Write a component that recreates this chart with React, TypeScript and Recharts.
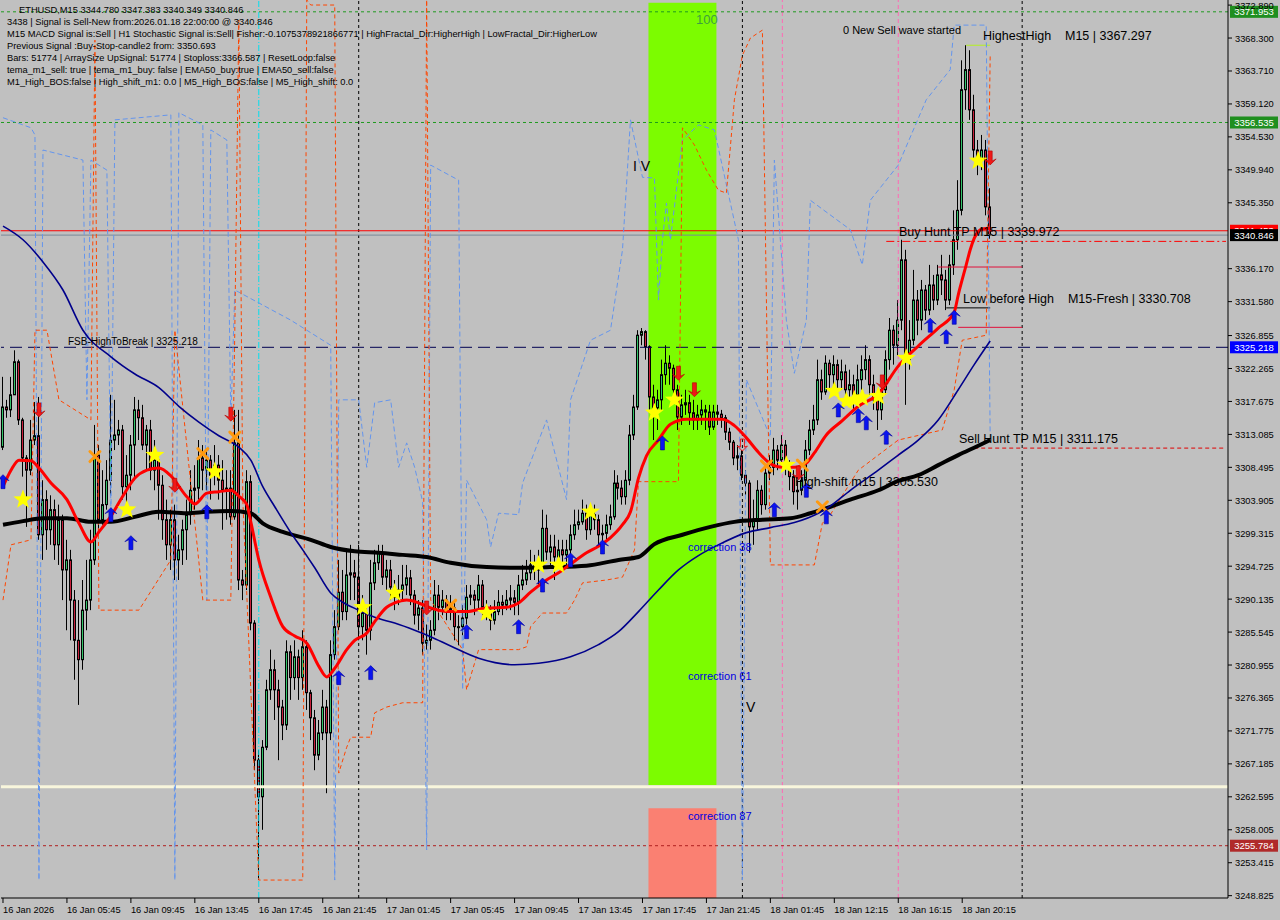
import React from 'react';
import { ComposedChart, Bar, Line, XAxis, YAxis, ReferenceLine, ReferenceArea } from 'recharts';

const FONT = '"Liberation Sans", Arial, sans-serif';
const SLOTS = 307;
const BULL = '#33c46a';
const BEAR = '#c8203c';

const timeLabels = ['16 Jan 2026', '16 Jan 05:45', '16 Jan 09:45', '16 Jan 13:45', '16 Jan 17:45', '16 Jan 21:45', '17 Jan 01:45', '17 Jan 05:45', '17 Jan 09:45', '17 Jan 13:45', '17 Jan 17:45', '17 Jan 21:45', '18 Jan 01:45', '18 Jan 12:15', '18 Jan 16:15', '18 Jan 20:15'];
const timeLabelBars = [0, 16, 32, 48, 64, 80, 96, 112, 128, 144, 160, 176, 192, 208, 224, 240];

const priceTicks = [3372.890, 3368.300, 3363.710, 3359.120, 3354.530, 3349.940, 3345.350, 3336.170, 3331.580, 3326.855, 3322.265, 3317.675, 3313.085, 3308.495, 3303.905, 3299.315, 3294.725, 3290.135, 3285.545, 3280.955, 3276.365, 3271.775, 3267.185, 3262.595, 3258.005, 3253.415, 3248.825];

const firstOpen = 3311.3;
const closes = [
  3316.9, 3316.5, 3318.6, 3323.2, 3315.1, 3309.8, 3308.1, 3312.3, 3312.9, 3299.1,
  3304.0, 3299.8, 3302.6, 3297.7, 3301.2, 3294.2, 3295.6, 3290.0, 3284.4, 3281.7,
  3288.6, 3290.0, 3295.6, 3310.2, 3301.2, 3303.3, 3306.7, 3312.3, 3313.0, 3313.7,
  3305.8, 3307.4, 3311.6, 3316.5, 3315.4, 3311.6, 3313.7, 3308.1, 3309.5, 3306.0,
  3301.2, 3297.7, 3301.2, 3295.6, 3297.0, 3299.8, 3301.9, 3305.3, 3305.6, 3309.8,
  3308.1, 3309.5, 3307.4, 3308.8, 3306.7, 3305.3, 3305.6, 3301.6, 3311.9, 3292.8,
  3292.1, 3306.5, 3286.8, 3267.7, 3262.6, 3269.5, 3277.5, 3280.3, 3277.5, 3275.1,
  3272.6, 3282.8, 3279.2, 3282.1, 3279.2, 3283.5, 3277.1, 3273.6, 3268.4, 3271.5,
  3275.1, 3271.5, 3282.4, 3286.3, 3291.1, 3288.4, 3293.5, 3293.8, 3293.2, 3286.3,
  3288.2, 3285.8, 3292.4, 3295.2, 3296.6, 3293.2, 3294.2, 3291.8, 3290.4, 3291.4,
  3292.1, 3293.1, 3290.7, 3287.9, 3288.9, 3284.0, 3284.4, 3285.8, 3290.7, 3289.0,
  3290.0, 3288.6, 3288.9, 3286.3, 3286.3, 3287.5, 3290.4, 3290.7, 3290.0, 3292.1,
  3289.0, 3288.6, 3287.2, 3288.4, 3289.7, 3289.3, 3290.0, 3290.3, 3289.7, 3292.1,
  3292.8, 3293.8, 3294.9, 3294.2, 3294.9, 3300.0, 3296.7, 3297.4, 3296.0, 3297.0,
  3296.3, 3297.0, 3299.1, 3300.5, 3300.9, 3302.1, 3299.8, 3301.9, 3301.2, 3299.1,
  3299.3, 3300.5, 3301.6, 3306.3, 3305.6, 3304.4, 3306.7, 3313.0, 3316.9, 3326.9,
  3327.4, 3325.3, 3318.3, 3316.8, 3317.9, 3321.4, 3323.0, 3322.3, 3319.3, 3315.5,
  3317.2, 3317.5, 3316.1, 3315.1, 3315.8, 3316.5, 3316.2, 3314.1, 3316.2, 3315.9,
  3315.4, 3313.4, 3312.0, 3309.8, 3310.1, 3307.4, 3306.3, 3300.2, 3301.2, 3305.3,
  3303.3, 3307.7, 3308.5, 3310.9, 3309.5, 3311.6, 3308.5, 3307.2, 3305.1, 3305.3,
  3306.7, 3310.9, 3313.7, 3315.1, 3320.7, 3319.0, 3323.0, 3321.4, 3322.8, 3320.7,
  3321.8, 3319.3, 3320.0, 3318.6, 3320.7, 3322.1, 3323.5, 3320.0, 3317.9, 3316.5,
  3319.3, 3323.5, 3327.6, 3325.5, 3329.0, 3337.4, 3323.5, 3326.2, 3331.8, 3329.0,
  3333.2, 3330.4, 3333.9, 3331.8, 3335.3, 3334.6, 3331.8, 3336.7, 3340.2, 3344.3,
  3361.1, 3363.9, 3358.3, 3352.7, 3351.3, 3352.7, 3344.78, 3340.846
];
const highs = [
  3321.1, 3317.9, 3321.1, 3324.8, 3323.5, 3315.4, 3310.2, 3315.1, 3317.6, 3318.3,
  3306.7, 3305.3, 3304.6, 3304.0, 3303.3, 3301.9, 3298.4, 3297.0, 3291.4, 3290.0,
  3292.8, 3295.6, 3299.8, 3314.4, 3311.6, 3308.1, 3309.5, 3318.6, 3317.9, 3315.1,
  3314.4, 3310.2, 3313.0, 3318.3, 3317.9, 3317.2, 3314.4, 3315.1, 3312.3, 3310.2,
  3307.4, 3304.0, 3302.6, 3303.3, 3299.1, 3301.2, 3304.0, 3308.1, 3308.8, 3312.3,
  3311.6, 3310.9, 3310.2, 3311.6, 3310.2, 3309.5, 3308.1, 3308.1, 3316.5, 3316.5,
  3294.2, 3308.1, 3307.4, 3287.2, 3269.1, 3270.5, 3278.9, 3283.1, 3281.7, 3278.9,
  3276.1, 3284.4, 3283.7, 3284.4, 3283.1, 3285.8, 3284.4, 3277.5, 3274.7, 3273.3,
  3277.5, 3276.1, 3284.4, 3288.6, 3295.6, 3294.2, 3297.0, 3297.7, 3295.6, 3297.7,
  3290.7, 3289.3, 3295.6, 3297.0, 3297.7, 3297.7, 3295.6, 3295.6, 3292.8, 3293.5,
  3294.9, 3294.9, 3294.2, 3291.4, 3290.0, 3290.0, 3286.6, 3287.2, 3292.8, 3292.1,
  3291.4, 3290.7, 3290.7, 3290.0, 3287.9, 3289.3, 3292.1, 3292.1, 3291.4, 3293.5,
  3292.8, 3290.0, 3289.3, 3290.0, 3291.4, 3290.7, 3291.4, 3292.1, 3291.4, 3293.5,
  3294.9, 3295.6, 3297.0, 3296.3, 3297.0, 3302.6, 3301.9, 3299.1, 3299.1, 3298.4,
  3298.4, 3298.4, 3300.5, 3302.6, 3302.6, 3304.0, 3303.3, 3303.3, 3303.3, 3301.9,
  3300.5, 3301.9, 3303.3, 3308.1, 3307.4, 3306.7, 3308.1, 3314.4, 3318.6, 3327.6,
  3327.9, 3327.6, 3325.5, 3320.0, 3319.3, 3323.5, 3325.5, 3324.1, 3322.8, 3320.0,
  3318.6, 3319.3, 3318.6, 3317.9, 3317.2, 3317.9, 3317.2, 3317.2, 3317.2, 3317.2,
  3316.5, 3315.8, 3314.0, 3312.3, 3311.6, 3310.9, 3308.1, 3306.7, 3304.0, 3306.7,
  3306.0, 3308.8, 3310.2, 3312.6, 3311.6, 3313.0, 3312.3, 3309.5, 3308.1, 3306.7,
  3308.1, 3312.3, 3315.1, 3317.2, 3323.5, 3322.1, 3324.1, 3323.5, 3324.1, 3323.5,
  3323.5, 3322.8, 3322.1, 3321.4, 3322.8, 3324.1, 3325.5, 3324.1, 3321.4, 3319.3,
  3320.7, 3324.8, 3329.3, 3328.3, 3331.8, 3340.2, 3338.8, 3329.0, 3336.0, 3333.2,
  3334.6, 3333.9, 3336.7, 3335.3, 3336.7, 3338.1, 3336.0, 3338.1, 3344.3, 3348.5,
  3365.2, 3367.3, 3366.6, 3360.4, 3354.1, 3354.8, 3354.1, 3347.383
];
const lows = [
  3310.9, 3315.4, 3315.5, 3318.6, 3314.4, 3307.2, 3300.2, 3307.4, 3311.6, 3298.4,
  3295.6, 3297.0, 3297.7, 3295.6, 3294.9, 3290.0, 3285.8, 3284.4, 3278.9, 3275.4,
  3280.3, 3285.8, 3288.6, 3294.9, 3299.8, 3300.5, 3302.6, 3304.6, 3310.9, 3311.6,
  3304.0, 3302.6, 3305.3, 3306.7, 3312.3, 3310.9, 3308.1, 3306.7, 3305.3, 3301.2,
  3298.4, 3295.6, 3294.2, 3292.8, 3292.8, 3294.9, 3295.6, 3300.5, 3302.6, 3304.0,
  3305.3, 3305.3, 3304.0, 3306.0, 3304.0, 3299.8, 3301.2, 3300.5, 3301.2, 3291.4,
  3290.0, 3291.4, 3285.8, 3266.3, 3251.0, 3258.0, 3269.1, 3276.1, 3273.3, 3267.7,
  3270.5, 3271.9, 3276.1, 3277.5, 3276.1, 3277.5, 3274.7, 3270.5, 3266.3, 3267.7,
  3270.5, 3263.1, 3270.5, 3281.7, 3285.8, 3287.2, 3287.2, 3290.0, 3290.0, 3284.4,
  3284.4, 3282.4, 3284.4, 3291.4, 3294.2, 3292.1, 3291.4, 3290.0, 3288.6, 3289.3,
  3290.0, 3290.7, 3289.3, 3286.6, 3285.8, 3282.4, 3283.1, 3283.1, 3285.1, 3287.2,
  3287.9, 3287.2, 3287.2, 3284.4, 3283.7, 3285.1, 3286.6, 3289.3, 3287.9, 3288.6,
  3287.9, 3287.2, 3285.8, 3286.6, 3287.9, 3287.9, 3288.6, 3288.6, 3287.9, 3287.9,
  3291.4, 3292.1, 3292.8, 3292.8, 3292.1, 3294.2, 3295.6, 3294.9, 3292.8, 3294.9,
  3294.2, 3294.9, 3296.3, 3298.4, 3299.8, 3300.5, 3298.4, 3299.1, 3299.8, 3297.7,
  3297.0, 3298.4, 3299.8, 3301.2, 3304.0, 3303.3, 3303.3, 3306.0, 3312.3, 3316.5,
  3325.5, 3323.5, 3316.5, 3312.3, 3313.7, 3316.5, 3320.0, 3320.0, 3317.9, 3313.7,
  3314.4, 3315.8, 3314.4, 3313.7, 3313.7, 3314.4, 3313.7, 3313.0, 3313.7, 3314.4,
  3314.0, 3312.3, 3310.9, 3308.8, 3308.1, 3306.7, 3304.6, 3296.6, 3297.7, 3299.8,
  3301.9, 3302.6, 3306.7, 3307.4, 3308.1, 3308.8, 3307.4, 3305.3, 3303.3, 3302.6,
  3304.6, 3306.0, 3310.2, 3313.0, 3314.4, 3317.9, 3318.6, 3319.3, 3320.0, 3318.6,
  3319.3, 3317.2, 3317.9, 3316.5, 3317.9, 3319.3, 3320.7, 3318.6, 3316.5, 3313.7,
  3315.1, 3318.6, 3322.1, 3322.8, 3324.1, 3327.6, 3317.2, 3322.1, 3325.5, 3326.9,
  3327.6, 3329.0, 3329.7, 3330.4, 3331.1, 3332.5, 3330.4, 3331.1, 3335.3, 3338.8,
  3343.6, 3358.3, 3356.9, 3351.3, 3349.2, 3349.9, 3343.6, 3340.349
];

// fast moving average (red)
const redIdx = [0, 2, 4, 7, 9, 12, 16, 19, 22, 24, 27, 30, 33, 36, 39, 42, 46, 48, 51, 54, 57, 59, 61, 62, 64, 67, 70, 73, 76, 79, 81, 83, 86, 88, 91, 93, 96, 98, 101, 104, 107, 112, 116, 121, 126, 129, 132, 136, 139, 142, 146, 149, 152, 155, 157, 159, 161, 164, 167, 171, 176, 180, 183, 186, 189, 192, 195, 198, 201, 203, 206, 210, 214, 219, 224, 229, 234, 238, 239, 241, 242, 243, 245, 247];
const redVals = [3305.8, 3308.1, 3309.5, 3309.4, 3308.4, 3306.3, 3304.0, 3300.7, 3298.1, 3299.5, 3301.7, 3304.5, 3307.0, 3308.1, 3308.4, 3307.3, 3304.4, 3303.4, 3304.9, 3305.1, 3305.3, 3304.5, 3303.3, 3300.9, 3295.6, 3290.4, 3286.3, 3285.0, 3284.0, 3280.8, 3279.3, 3280.5, 3283.1, 3284.4, 3285.4, 3287.0, 3289.0, 3289.6, 3290.0, 3289.6, 3288.9, 3288.4, 3288.4, 3288.9, 3289.0, 3289.6, 3291.1, 3292.8, 3293.8, 3295.0, 3296.6, 3297.5, 3298.7, 3300.5, 3302.3, 3307.0, 3310.1, 3312.3, 3314.5, 3315.2, 3315.2, 3315.2, 3314.3, 3312.6, 3310.6, 3309.0, 3308.5, 3308.5, 3309.1, 3310.5, 3313.0, 3315.0, 3317.0, 3318.7, 3322.6, 3325.4, 3327.9, 3330.1, 3332.5, 3336.7, 3338.8, 3340.4, 3341.7, 3341.8];
// slow moving average (navy)
const navyIdx = [0, 5, 10, 15, 20, 27, 33, 39, 44, 49, 54, 59, 62, 65, 68, 72, 75, 78, 82, 85, 89, 93, 98, 103, 107, 112, 119, 128, 134, 142, 149, 154, 159, 164, 169, 174, 179, 186, 192, 198, 204, 207, 212, 219, 224, 229, 234, 239, 243, 247];
const navyVals = [3342.1, 3340.2, 3337.1, 3333.2, 3327.6, 3323.9, 3321.5, 3319.6, 3317.0, 3314.8, 3312.9, 3311.3, 3309.5, 3305.8, 3303.0, 3299.4, 3297.0, 3294.5, 3291.0, 3289.7, 3288.6, 3287.6, 3286.8, 3285.8, 3284.9, 3283.6, 3281.9, 3281.0, 3281.2, 3282.1, 3283.8, 3285.6, 3288.4, 3291.4, 3294.2, 3296.2, 3297.7, 3299.4, 3300.1, 3300.8, 3302.1, 3303.1, 3305.3, 3308.1, 3310.2, 3312.3, 3315.1, 3319.3, 3322.8, 3326.1];
// long moving average (black)
const blackIdx = [0, 5, 10, 16, 22, 27, 33, 39, 46, 51, 57, 62, 65, 70, 77, 82, 88, 94, 100, 106, 112, 121, 129, 137, 146, 154, 159, 163, 170, 177, 183, 190, 197, 202, 207, 212, 219, 224, 229, 234, 239, 244, 247];
const blackVals = [3300.5, 3301.0, 3301.4, 3301.4, 3300.9, 3300.9, 3301.6, 3302.3, 3302.1, 3302.3, 3302.4, 3302.1, 3300.7, 3299.5, 3298.4, 3297.4, 3296.8, 3296.6, 3296.3, 3296.0, 3295.2, 3294.6, 3294.5, 3294.6, 3294.8, 3295.6, 3296.0, 3297.8, 3299.1, 3300.2, 3300.9, 3301.2, 3301.4, 3302.1, 3303.0, 3304.0, 3305.3, 3306.6, 3307.4, 3308.8, 3310.2, 3311.5, 3312.3];

// upper channel (blue dashed)
const upperIdx = [0, 7, 8, 9, 10, 20, 21, 22, 26, 27, 28, 42, 43, 44, 50, 51, 52, 56, 57, 58, 72, 82, 83, 84, 89, 91, 93, 97, 99, 101, 103, 105, 106, 107, 114, 115, 116, 121, 122, 124, 129, 130, 136, 141, 142, 147, 152, 155, 157, 160, 163, 164, 165, 166, 167, 170, 174, 178, 184, 185, 186, 192, 193, 196, 198, 201, 202, 212, 215, 217, 224, 231, 237, 238, 246, 247];
const upperVals = [3357.2, 3355.8, 3354.8, 3251.0, 3352.7, 3351.3, 3317.9, 3351.3, 3349.9, 3301.9, 3356.9, 3357.6, 3251.0, 3357.9, 3356.2, 3290.0, 3355.5, 3354.1, 3315.1, 3333.2, 3329.0, 3325.5, 3251.0, 3317.9, 3317.9, 3308.5, 3317.5, 3317.9, 3308.5, 3311.9, 3308.5, 3303.7, 3255.2, 3350.6, 3348.5, 3277.5, 3306.7, 3301.2, 3297.4, 3302.1, 3301.9, 3306.3, 3315.1, 3304.0, 3317.9, 3326.2, 3327.6, 3338.8, 3356.9, 3348.9, 3348.8, 3331.8, 3340.2, 3345.3, 3340.2, 3354.1, 3356.2, 3355.5, 3340.2, 3251.0, 3320.7, 3312.7, 3351.3, 3329.0, 3321.6, 3329.0, 3345.7, 3341.6, 3336.7, 3345.7, 3350.6, 3359.7, 3363.9, 3370.1, 3370.1, 3312.3];
// lower channel (orange dashed)
const lowerIdx = [0, 2, 7, 8, 11, 14, 22, 23, 24, 34, 42, 43, 50, 57, 58, 59, 60, 64, 75, 76, 77, 83, 84, 86, 87, 92, 93, 96, 100, 105, 106, 107, 115, 116, 119, 129, 131, 132, 135, 141, 143, 145, 151, 155, 158, 159, 169, 170, 173, 176, 179, 181, 183, 185, 187, 190, 192, 203, 205, 207, 214, 224, 235, 238, 240, 246, 247];
const lowerVals = [3290.0, 3297.7, 3298.4, 3327.6, 3327.6, 3317.9, 3315.1, 3368.0, 3288.6, 3288.6, 3295.6, 3327.6, 3290.0, 3290.0, 3327.6, 3370.8, 3304.0, 3251.0, 3251.0, 3373.6, 3372.9, 3372.9, 3265.9, 3269.5, 3270.9, 3270.9, 3274.3, 3275.1, 3275.7, 3275.7, 3373.6, 3290.0, 3283.1, 3277.5, 3283.1, 3283.1, 3283.5, 3286.3, 3288.2, 3288.2, 3290.0, 3292.4, 3292.8, 3293.2, 3297.0, 3306.5, 3306.5, 3355.8, 3353.4, 3349.9, 3347.1, 3346.7, 3359.7, 3365.9, 3368.3, 3369.4, 3294.9, 3294.9, 3300.7, 3301.9, 3308.1, 3312.3, 3313.7, 3319.3, 3326.2, 3326.9, 3365.9];

// signal markers
const upIdx = [0, 27, 32, 51, 84, 92, 116, 129, 135, 142, 150, 165, 193, 201, 206, 209, 214, 216, 221, 232, 236, 238];
const upVals = [3306.5, 3301.9, 3298.0, 3302.3, 3279.2, 3279.9, 3285.6, 3286.3, 3292.1, 3295.6, 3297.4, 3311.9, 3302.6, 3305.3, 3301.6, 3316.5, 3315.7, 3314.7, 3312.7, 3328.3, 3326.7, 3329.4];
const downIdx = [9, 43, 57, 106, 169, 173, 199, 220, 247];
const downVals = [3316.5, 3306.0, 3315.9, 3288.9, 3321.6, 3319.3, 3307.7, 3320.4, 3351.6];
const starIdx = [5, 31, 38, 53, 90, 98, 121, 134, 139, 147, 163, 168, 196, 208, 211, 213, 215, 219, 226, 244];
const starVals = [3304.0, 3302.6, 3310.2, 3307.9, 3289.0, 3291.0, 3288.2, 3294.9, 3294.9, 3302.3, 3316.1, 3317.9, 3308.8, 3319.1, 3317.7, 3317.9, 3318.2, 3318.4, 3323.7, 3351.2];
const crossIdx = [23, 50, 58, 112, 191, 200, 205];
const crossVals = [3310.0, 3310.4, 3312.7, 3289.3, 3308.7, 3308.8, 3303.0];
const hollowIdx = [185];
const hollowVals = [3311.6];

const headerLines = [
  'ETHUSD,M15  3344.780 3347.383 3340.349 3340.846',
  '3438 | Signal is Sell-New from:2026.01.18 22:00:00 @ 3340.846',
  'M15 MACD Signal is:Sell | H1 Stochastic Signal is:Sell| Fisher:-0.1075378921866771 | HighFractal_Dir:HigherHigh | LowFractal_Dir:HigherLow',
  'Previous Signal :Buy-Stop-candle2 from: 3350.693',
  'Bars: 51774 | ArraySize UpSignal: 51774 | Stoploss:3366.587 | ResetLoop:false',
  'tema_m1_sell: true | tema_m1_buy: false | EMA50_buy:true | EMA50_sell:false',
  'M1_High_BOS:false | High_shift_m1: 0.0 | M5_High_BOS:false | M5_High_shift: 0.0',
];

function put(rows: any[], key: string, idx: number[], vals: number[]) {
  idx.forEach((ix, k) => { rows[ix][key] = vals[k]; });
}

const rows: any[] = Array.from({ length: SLOTS }, (_, i) => ({ i }));
closes.forEach((c, i) => {
  const o = i === 0 ? firstOpen : closes[i - 1];
  const h = Math.max(highs[i], o, c);
  const l = Math.min(lows[i], o, c);
  Object.assign(rows[i], { o, c, h, l, range: [l, h] });
});
put(rows, 'red', redIdx, redVals);
put(rows, 'navy', navyIdx, navyVals);
put(rows, 'black', blackIdx, blackVals);
put(rows, 'upper', upperIdx, upperVals);
put(rows, 'lower', lowerIdx, lowerVals);
put(rows, 'up', upIdx, upVals);
put(rows, 'down', downIdx, downVals);
put(rows, 'star', starIdx, starVals);
put(rows, 'cross', crossIdx, crossVals);
put(rows, 'hollow', hollowIdx, hollowVals);

const Candle = (props: any) => {
  const { x, y, width, height, payload } = props;
  if (!payload || payload.o == null || x == null) return <g />;
  const top = Math.min(y, y + height);
  const bot = Math.max(y, y + height);
  const { o, c, h, l } = payload;
  const span = h - l || 1;
  const py = (v: number) => top + ((h - v) / span) * (bot - top);
  const p = Math.floor(x + width / 2);
  const cx = p + 0.5;
  const yo = py(o), yc = py(c);
  const bt = Math.min(yo, yc), bb = Math.max(yo, yc);
  return (
    <g>
      <line x1={cx} x2={cx} y1={top} y2={bot} stroke="#000" strokeWidth={1} />
      <rect x={p - 0.5} y={bt} width={2} height={Math.max(bb - bt, 1)} fill={c >= o ? BULL : BEAR} stroke="#000" strokeWidth={1} />
    </g>
  );
};

const mk = (render: (cx: number, cy: number) => any, name: string) => (props: any) => {
  const { cx, cy, value, index } = props;
  if (value == null || cy == null || isNaN(cy)) return <g key={`${name}-${index}`} />;
  return <g key={`${name}-${index}`}>{render(cx, cy)}</g>;
};

const upArrow = mk((cx, cy) => (
  <polygon points={`${cx},${cy - 7} ${cx + 6},${cy - 1} ${cx + 2},${cy - 3} ${cx + 2},${cy + 7} ${cx - 2},${cy + 7} ${cx - 2},${cy - 3} ${cx - 6},${cy - 1}`} fill="#0a14f0" stroke="#0000a0" strokeWidth={0.6} />
), 'up');
const downArrow = mk((cx, cy) => (
  <polygon points={`${cx},${cy + 7} ${cx + 6},${cy + 1} ${cx + 2},${cy + 3} ${cx + 2},${cy - 7} ${cx - 2},${cy - 7} ${cx - 2},${cy + 3} ${cx - 6},${cy + 1}`} fill="#f01818" stroke="#b00000" strokeWidth={0.6} />
), 'down');
const hollowArrow = mk((cx, cy) => (
  <polygon points={`${cx},${cy + 6} ${cx + 5},${cy + 1} ${cx + 2},${cy + 2} ${cx + 2},${cy - 6} ${cx - 2},${cy - 6} ${cx - 2},${cy + 2} ${cx - 5},${cy + 1}`} fill="none" stroke="#f01818" strokeWidth={1} />
), 'hollow');
const star = mk((cx, cy) => {
  const pts: string[] = [];
  for (let k = 0; k < 10; k++) {
    const r = k % 2 === 0 ? 10 : 4.2;
    const a = -Math.PI / 2 + (k * Math.PI) / 5;
    pts.push(`${cx + r * Math.cos(a)},${cy + r * Math.sin(a)}`);
  }
  return <polygon points={pts.join(' ')} fill="#ffff00" />;
}, 'star');
const cross = mk((cx, cy) => (
  <g stroke="#ff9a10" strokeWidth={3} strokeLinecap="round">
    <line x1={cx - 5} y1={cy - 5} x2={cx + 5} y2={cy + 5} />
    <line x1={cx - 5} y1={cy + 5} x2={cx + 5} y2={cy - 5} />
  </g>
), 'cross');

const tag = (text: string, bg: string) => (props: any) => {
  const vb = props.viewBox || {};
  const x = (vb.x || 0) + (vb.width || 0) + 2;
  const y = vb.y || 0;
  return (
    <g>
      <rect x={x} y={y - 6} width={48} height={12} fill={bg} />
      <text x={x + 24} y={y + 3.5} textAnchor="middle" fontSize={9.5} fontFamily={FONT} fill="#fff">{text}</text>
    </g>
  );
};

const XTick = (props: any) => {
  const { x, y, payload } = props;
  const k = timeLabelBars.indexOf(payload.value);
  return (
    <text x={x} y={y + 8} fontSize={9.3} fontFamily={FONT} fill="#000" textAnchor="start">{k >= 0 ? timeLabels[k] : ''}</text>
  );
};

const YTick = (props: any) => {
  const { x, y, payload } = props;
  return (
    <text x={x} y={y + 3.5} fontSize={9.3} fontFamily={FONT} fill="#000" textAnchor="start">{Number(payload.value).toFixed(3)}</text>
  );
};

const overlayText = [
  { t: '0 New Sell wave started', x: 843, y: 34, s: 11, c: '#000' },
  { t: 'HighestHigh    M15 | 3367.297', x: 983, y: 40, s: 12.5, c: '#000' },
  { t: 'Buy Hunt TP M15 | 3339.972', x: 899, y: 236, s: 12.5, c: '#000' },
  { t: 'Low before High    M15-Fresh | 3330.708', x: 963, y: 303, s: 12.5, c: '#000' },
  { t: 'FSB-HighToBreak | 3325.218', x: 68, y: 345, s: 10, c: '#000' },
  { t: 'Sell Hunt TP M15 | 3311.175', x: 959, y: 443, s: 12.5, c: '#000' },
  { t: 'High-shift m15 | 3305.530', x: 795, y: 486, s: 12.5, c: '#000' },
  { t: '100', x: 696, y: 24, s: 13, c: '#3f9f3f' },
  { t: 'correction 38', x: 688, y: 551, s: 11, c: '#0000e0' },
  { t: 'correction 61', x: 688, y: 680, s: 11, c: '#0000e0' },
  { t: 'correction 87', x: 688, y: 820, s: 11, c: '#0000e0' },
  { t: 'I V', x: 633, y: 171, s: 14, c: '#000' },
  { t: 'V', x: 746, y: 712, s: 14, c: '#000' },
];

export default function App() {
  return (
    <div style={{ position: 'absolute', left: 0, top: 0, width: 1280, height: 920, background: '#c0c0c0', overflow: 'hidden' }}>
      <ComposedChart width={1280} height={920} data={rows} margin={{ top: 0, right: 0, bottom: 0, left: 1 }}>
        <XAxis dataKey="i" type="category" height={22} ticks={timeLabelBars} interval={0} tick={<XTick />} tickSize={5} axisLine={{ stroke: '#000' }} tickLine={{ stroke: '#000' }} />
        <YAxis orientation="right" type="number" width={52} domain={[3248.5, 3373.6]} allowDataOverflow ticks={priceTicks} interval={0} tick={<YTick />} tickSize={4} tickMargin={3} axisLine={{ stroke: '#000' }} tickLine={{ stroke: '#000' }} />

        <ReferenceArea x1={162} x2={178} y1={3264.2} y2={3373.2} fill="#7cfc00" fillOpacity={1} stroke="none" ifOverflow="hidden" />
        <ReferenceArea x1={162} x2={178} y1={3248.5} y2={3261.0} fill="#fa8072" fillOpacity={1} stroke="none" ifOverflow="hidden" />

        <ReferenceLine x={89} stroke="#000" strokeDasharray="3 3" />
        <ReferenceLine x={185} stroke="#000" strokeDasharray="3 3" />
        <ReferenceLine x={255} stroke="#000" strokeDasharray="3 3" />
        <ReferenceLine x={64} stroke="#00e0f0" strokeDasharray="6 2 1 2" />
        <ReferenceLine x={195} stroke="#ff69b4" strokeDasharray="4 3" />
        <ReferenceLine x={224} stroke="#ff69b4" strokeDasharray="4 3" />

        <ReferenceLine y={3371.953} stroke="#1f9a1f" strokeDasharray="3 3" label={tag('3371.953', '#1f8f1f')} />
        <ReferenceLine y={3356.535} stroke="#1f9a1f" strokeDasharray="3 3" label={tag('3356.535', '#1f8f1f')} />
        <ReferenceLine y={3341.453} stroke="#ff0000" label={tag('3341.453', '#ff0000')} />
        <ReferenceLine y={3340.846} stroke="#7a8a99" label={tag('3340.846', '#000000')} />
        <ReferenceLine y={3325.218} stroke="#000050" strokeDasharray="12 6" label={tag('3325.218', '#0000ff')} />
        <ReferenceLine y={3264.0} stroke="#f8f6dc" strokeWidth={3} />
        <ReferenceLine y={3255.784} stroke="#b02020" strokeDasharray="3 3" label={tag('3255.784', '#b02a2a')} />

        <ReferenceLine segment={[{ x: 221, y: 3339.972 }, { x: 306, y: 3339.972 }]} stroke="#ff0000" strokeDasharray="8 3 2 3" />
        <ReferenceLine segment={[{ x: 234, y: 3336.4 }, { x: 255, y: 3336.4 }]} stroke="#e0103a" />
        <ReferenceLine segment={[{ x: 236, y: 3330.708 }, { x: 247, y: 3330.708 }]} stroke="#000" />
        <ReferenceLine segment={[{ x: 239, y: 3328.0 }, { x: 255, y: 3328.0 }]} stroke="#e0103a" />
        <ReferenceLine segment={[{ x: 243, y: 3311.175 }, { x: 306, y: 3311.175 }]} stroke="#e00000" strokeDasharray="4 3" />
        <ReferenceLine segment={[{ x: 241, y: 3367.297 }, { x: 247, y: 3367.297 }]} stroke="#b4f020" />

        <Line dataKey="upper" stroke="#6495ed" strokeWidth={1} strokeDasharray="5 3" dot={false} activeDot={false} connectNulls type="linear" isAnimationActive={false} />
        <Line dataKey="lower" stroke="#ff4500" strokeWidth={1} strokeDasharray="4 3" dot={false} activeDot={false} connectNulls type="linear" isAnimationActive={false} />

        <Bar dataKey="range" barSize={3} shape={<Candle />} isAnimationActive={false} />

        <Line dataKey="black" stroke="#000" strokeWidth={4} dot={false} activeDot={false} connectNulls type="monotone" isAnimationActive={false} />
        <Line dataKey="navy" stroke="#00008b" strokeWidth={1.6} dot={false} activeDot={false} connectNulls type="monotone" isAnimationActive={false} />
        <Line dataKey="red" stroke="#ff0000" strokeWidth={3} dot={false} activeDot={false} connectNulls type="monotone" isAnimationActive={false} />

        <Line dataKey="cross" stroke="none" dot={cross} activeDot={false} isAnimationActive={false} />
        <Line dataKey="star" stroke="none" dot={star} activeDot={false} isAnimationActive={false} />
        <Line dataKey="up" stroke="none" dot={upArrow} activeDot={false} isAnimationActive={false} />
        <Line dataKey="down" stroke="none" dot={downArrow} activeDot={false} isAnimationActive={false} />
        <Line dataKey="hollow" stroke="none" dot={hollowArrow} activeDot={false} isAnimationActive={false} />
      </ComposedChart>
      <svg width={1280} height={920} style={{ position: 'absolute', left: 0, top: 0, pointerEvents: 'none' }}>
        {headerLines.map((t, k) => (
          <text key={k} x={k === 0 ? 19 : 7} y={13 + k * 12} fontSize={9.3} fontFamily={FONT} fill="#000">{t}</text>
        ))}
        {overlayText.map((o, k) => (
          <text key={`o${k}`} x={o.x} y={o.y} fontSize={o.s} fontFamily={FONT} fill={o.c} style={{ whiteSpace: 'pre' }}>{o.t}</text>
        ))}
      </svg>
    </div>
  );
}
